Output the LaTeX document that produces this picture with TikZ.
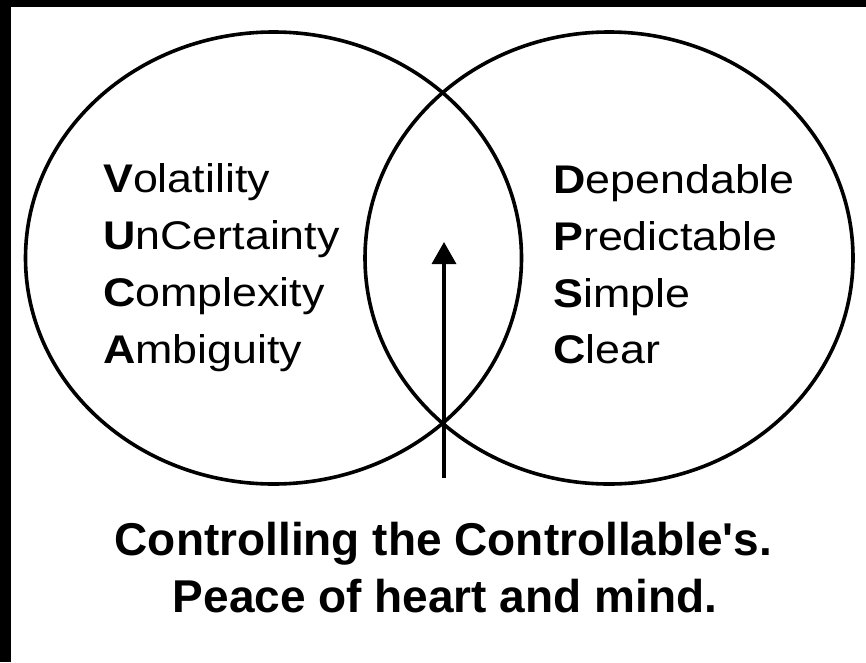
\documentclass[tikz,border=0pt]{standalone}
\usepackage{fontspec}
\setmainfont{Liberation Sans}
\newfontfamily\wideface[FakeStretch=1.12]{Liberation Sans}
\usetikzlibrary{arrows.meta}
\tikzset{
  venn/.style={draw=black, line width=3.6pt},
  listitem/.style={anchor=base west, inner sep=0pt, font=\wideface\fontsize{40}{48}\selectfont},
  caption/.style={anchor=base, inner sep=0pt, font=\bfseries\fontsize{46}{54}\selectfont},
  pointer/.style={line width=3.6pt, -{Triangle[length=22pt,width=24pt]}}
}
\begin{document}
\begin{tikzpicture}[x=1pt,y=-1pt]
\useasboundingbox (0,0) rectangle (866,662);
\fill[white] (0,0) rectangle (866,662);
\fill[black] (0,0) rectangle (11,662);
\fill[black] (0,0) rectangle (866,7);
% circles
\draw[venn] (273.5,258) ellipse [x radius=248, y radius=226];
\draw[venn] (609,258) ellipse [x radius=244, y radius=226];
% left list
\node[listitem] (v) at (103,192) {\textbf{V}olatility};
\node[listitem] (u) at (103,249) {\textbf{U}nCertainty};
\node[listitem] (c) at (103,306) {\textbf{C}omplexity};
\node[listitem] (a) at (103,363) {\textbf{A}mbiguity};
% right list
\node[listitem] (d) at (553,193) {\textbf{D}ependable};
\node[listitem] (p) at (553,250) {\textbf{P}redictable};
\node[listitem] (s) at (553,307) {\textbf{S}imple};
\node[listitem] (cl) at (553,363) {\textbf{C}lear};
% arrow
\coordinate (arrowfoot) at (444,478);
\coordinate (arrowtip) at (444,242);
\draw[pointer] (arrowfoot) -- (arrowtip);
% caption
\node[caption] (cap1) at (443.5,555) {Controlling the Controllable\textquotesingle s.};
\node[caption] (cap2) at (445,612) {Peace of heart and mind.};
\end{tikzpicture}
\end{document}
